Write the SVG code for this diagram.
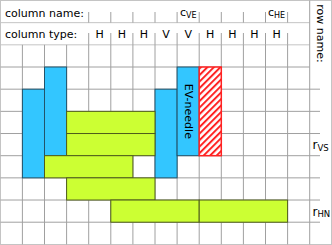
<svg xmlns="http://www.w3.org/2000/svg" width="332" height="245" viewBox="0 0 332 245">
<style>
text{font-family:"DejaVu Sans",sans-serif;font-size:11px;fill:#000}
.g{stroke:#a0a0a0;stroke-width:1;fill:none}
.h{stroke:#c4c4c4;stroke-width:1;fill:none}
.blue{fill:#33c6ff;stroke:#22536a;stroke-width:1}
.green{fill:#ccff33;stroke:#4f5c1c;stroke-width:1}
.sub{font-size:8px}
.rl{font-size:12px}
.rl .sub{font-size:8.5px}
.c{text-anchor:middle}
</style>
<defs>
<pattern id="hatch" patternUnits="userSpaceOnUse" width="4.6" height="4.6" patternTransform="rotate(45)">
<rect width="4.6" height="4.6" fill="#fff"/>
<line x1="1" y1="0" x2="1" y2="4.6" stroke="#ff2222" stroke-width="2"/>
</pattern>
</defs>
<rect x="0" y="0" width="332" height="245" fill="#fff"/>
<g id="grid">
<rect class="h" x="0.5" y="0.5" width="331" height="244"/>
<path class="h" d="M0.5 22.67H309.7M0.5 44.84H309.7"/>
<path class="g" d="M0.5 67.01H309.7M0.5 89.18H320M0.5 111.35H320M0.5 133.52H320M0.5 155.69H320M0.5 177.86H320M0.5 200.03H320M0.5 222.2H320"/>
<path class="g" d="M22.4 44.84V244.4M44.5 44.84V244.4M66.6 44.84V244.4M88.7 44.84V244.4M110.8 44.84V244.4M132.9 44.84V244.4M155 44.84V244.4M177.1 44.84V244.4M199.2 44.84V244.4M221.3 44.84V244.4M243.4 44.84V244.4M265.5 44.84V244.4M287.6 44.84V244.4M309.7 0.5V244.4"/>
<path class="g" d="M88.7 12V22.67M110.8 12V22.67M132.9 12V22.67M155 12V22.67M177.1 12V22.67M199.2 12V22.67M221.3 12V22.67M243.4 12V22.67M265.5 12V22.67M287.6 12V22.67"/>
<path class="g" d="M88.7 33V44.84M110.8 33V44.84M132.9 33V44.84M155 33V44.84M177.1 33V44.84M199.2 33V44.84M221.3 33V44.84M243.4 33V44.84M265.5 33V44.84M287.6 33V44.84"/>
</g>
<g id="header">
<text x="5" y="16.5">column name:</text>
<text x="5" y="37.8">column type:</text>
<text x="180" y="16">c<tspan class="sub" dy="1.5">VE</tspan></text>
<text x="268" y="16">c<tspan class="sub" dy="1.5">HE</tspan></text>
<text class="c" x="99.75" y="37.8">H</text>
<text class="c" x="121.85" y="37.8">H</text>
<text class="c" x="143.95" y="37.8">H</text>
<text class="c" x="166.05" y="37.8">V</text>
<text class="c" x="188.15" y="37.8">V</text>
<text class="c" x="210.25" y="37.8">H</text>
<text class="c" x="232.35" y="37.8">H</text>
<text class="c" x="254.45" y="37.8">H</text>
<text class="c" x="276.55" y="37.8">H</text>
<text class="c" transform="translate(320.8,33.5) rotate(90)" dominant-baseline="central">row name:</text>
</g>
<g id="rowlabels">
<text class="rl" x="312.5" y="149.2">r<tspan class="sub" dy="1.5">VS</tspan></text>
<text class="rl" x="312.5" y="215.5">r<tspan class="sub" dy="1.5">HN</tspan></text>
</g>
<g id="blue1"><rect class="blue" x="22.4" y="89.18" width="22.1" height="88.68"/></g>
<g id="blue2"><rect class="blue" x="44.5" y="67.01" width="22.1" height="88.68"/></g>
<g id="blue3"><rect class="blue" x="155" y="89.18" width="22.1" height="88.68"/></g>
<g id="ev-needle"><rect class="blue" x="177.1" y="67.01" width="22.1" height="88.68"/>
<text class="c" transform="translate(188.15,111.35) rotate(90)" dominant-baseline="central">EV-needle</text></g>
<g id="hatched"><rect x="199.2" y="67.01" width="22.1" height="88.68" fill="url(#hatch)" stroke="#ff2222" stroke-width="1.5"/></g>
<g id="green1"><rect class="green" x="66.6" y="111.35" width="88.4" height="22.17"/></g>
<g id="green2"><rect class="green" x="66.6" y="133.52" width="88.4" height="22.17"/></g>
<g id="green3"><rect class="green" x="44.5" y="155.69" width="88.4" height="22.17"/></g>
<g id="green4"><rect class="green" x="66.6" y="177.86" width="88.4" height="22.17"/></g>
<g id="green5"><rect class="green" x="110.8" y="200.03" width="88.4" height="22.17"/></g>
<g id="green6"><rect class="green" x="199.2" y="200.03" width="88.4" height="22.17"/></g>
<g id="connectors"></g>
</svg>
